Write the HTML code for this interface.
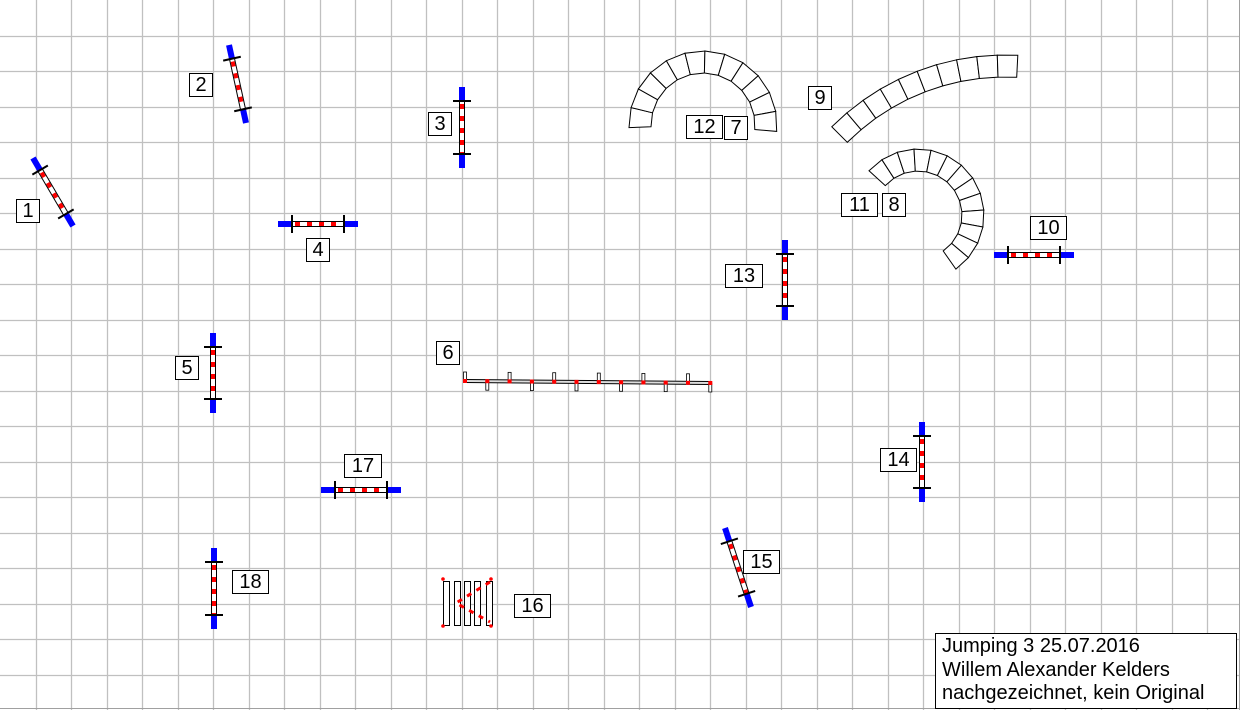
<!DOCTYPE html>
<html><head><meta charset="utf-8"><style>
html,body{margin:0;padding:0;background:#fff;}
#wrap{position:relative;width:1240px;height:710px;overflow:hidden;font-family:"Liberation Sans",Arial,sans-serif;}
svg{position:absolute;left:0;top:0;}
.lb{position:absolute;border:1px solid #000;background:#fff;font-size:20px;line-height:22px;text-align:center;color:#000;box-sizing:border-box;height:24px;}
#info{position:absolute;left:935px;top:633px;width:302px;height:76px;border:1px solid #000;background:#fff;box-sizing:border-box;font-size:20px;line-height:23.5px;padding:1px 0 0 6px;color:#000;}
</style></head><body><div id="wrap">
<svg id="s" width="1240" height="710" xmlns="http://www.w3.org/2000/svg"></svg>
<div class="lb" style="left:16px;top:199px;width:24px">1</div>
<div class="lb" style="left:189px;top:73px;width:24px">2</div>
<div class="lb" style="left:428px;top:112px;width:24px">3</div>
<div class="lb" style="left:306px;top:238px;width:24px">4</div>
<div class="lb" style="left:175px;top:356px;width:24px">5</div>
<div class="lb" style="left:436px;top:341px;width:24px">6</div>
<div class="lb" style="left:686px;top:115px;width:37px">12</div>
<div class="lb" style="left:724px;top:116px;width:24px">7</div>
<div class="lb" style="left:808px;top:86px;width:24px">9</div>
<div class="lb" style="left:841px;top:193px;width:37px">11</div>
<div class="lb" style="left:882px;top:193px;width:24px">8</div>
<div class="lb" style="left:1030px;top:216px;width:37px">10</div>
<div class="lb" style="left:725px;top:264px;width:38px">13</div>
<div class="lb" style="left:880px;top:448px;width:37px">14</div>
<div class="lb" style="left:743px;top:550px;width:37px">15</div>
<div class="lb" style="left:514px;top:594px;width:37px">16</div>
<div class="lb" style="left:344px;top:454px;width:38px">17</div>
<div class="lb" style="left:232px;top:570px;width:37px">18</div>
<div id="info">Jumping 3 25.07.2016<br>Willem Alexander Kelders<br>nachgezeichnet, kein Original</div>
</div>
<script>
var s=document.getElementById('s'),h='';
for(var i=1;i*35.5<1240;i++){var x=Math.round(i*35.5)+0.5;h+='<line x1="'+x+'" y1="0" x2="'+x+'" y2="710" stroke="#c0c0c0" stroke-width="1.3"/>';}
for(var i=1;i*35.5<700;i++){var y=Math.round(i*35.5)+0.5;h+='<line x1="0" y1="'+y+'" x2="1240" y2="'+y+'" stroke="#c0c0c0" stroke-width="1.3"/>';}
h+='<line x1="0" y1="708.5" x2="1240" y2="708.5" stroke="#a0a0a0"/><line x1="1239.5" y1="0" x2="1239.5" y2="710" stroke="#a0a0a0"/>';
function P(x,y){return x.toFixed(1)+','+y.toFixed(1);}
function jump(x1,y1,x2,y2){
 var dx=x2-x1,dy=y2-y1,L=Math.hypot(dx,dy),ux=dx/L,uy=dy/L,nx=-uy,ny=ux,w=14;
 function pt(a,b){return [x1+ux*a+nx*b,y1+uy*a+ny*b];}
 function seg(a1,b1,a2,b2,c,sw,extra){var p=pt(a1,b1),q=pt(a2,b2);return '<line x1="'+p[0]+'" y1="'+p[1]+'" x2="'+q[0]+'" y2="'+q[1]+'" stroke="'+c+'" stroke-width="'+sw+'" '+(extra||'')+'/>';}
 var r='';
 r+=seg(w,0,L-w,0,'#fff',5);
 r+=seg(w,0,L-w,0,'#f00',4,'stroke-dasharray="5 7" stroke-dashoffset="-3"');
 r+=seg(w,-2.5,L-w,-2.5,'#000',1);r+=seg(w,2.5,L-w,2.5,'#000',1);
 r+=seg(0,0,w,0,'#0000ff',6);r+=seg(L-w,0,L,0,'#0000ff',6);
 r+=seg(w,-9,w,9,'#000',2);r+=seg(L-w,-9,L-w,9,'#000',2);
 h+=r;}
jump(33,158,73,226);jump(229,45,246,123);jump(462,87,462,168);jump(278,224,358,224);
jump(213,333,213,413);jump(994,255,1074,255);jump(785,240,785,320);jump(922,422,922,502);
jump(725,528,751,607);jump(321,490,401,490);jump(214,548,214,629);
function tunnel(cx,cy,ri,ro,a0,a1,n){
 for(var k=0;k<n;k++){var b0=(a0+(a1-a0)*k/n)*Math.PI/180,b1=(a0+(a1-a0)*(k+1)/n)*Math.PI/180;
 h+='<polygon points="'+P(cx+ri*Math.cos(b0),cy+ri*Math.sin(b0))+' '+P(cx+ro*Math.cos(b0),cy+ro*Math.sin(b0))+' '+P(cx+ro*Math.cos(b1),cy+ro*Math.sin(b1))+' '+P(cx+ri*Math.cos(b1),cy+ri*Math.sin(b1))+'" fill="#fff" stroke="#000" stroke-width="1"/>';}}
tunnel(703,125,52,74,178,365,12);
tunnel(1005,300,223,245,225,273,10);
tunnel(918,215,44,66,222,415,13);
h+='<line x1="465" y1="381" x2="712" y2="383" stroke="#000" stroke-width="4"/><line x1="465" y1="381" x2="712" y2="383" stroke="#ddd" stroke-width="2"/>';
for(var k=0;k<12;k++){var x=465+k*22.3,y=381+k*0.18,up=(k%2==0);
 h+='<rect x="'+(x-1.5)+'" y="'+(up?y-9:y)+'" width="3" height="9" fill="#fff" stroke="#000" stroke-width="0.8"/>';
 h+='<rect x="'+(x-2)+'" y="'+(y-2)+'" width="4" height="4" fill="#f00"/>';}
var xs=[443,454,464,474,486];
for(var k=0;k<5;k++){h+='<rect x="'+(xs[k]+0.5)+'" y="581.5" width="6" height="44" fill="#fff" stroke="#000" stroke-width="1"/>';}
h+='<path d="M490,582 L456,603 L490,622" fill="none" stroke="#f00" stroke-width="3" stroke-dasharray="5 6"/>';
[[443,579],[491,579],[443,626],[491,626]].forEach(function(p){h+='<circle cx="'+p[0]+'" cy="'+p[1]+'" r="1.8" fill="#f00"/>';});
s.innerHTML=h;
</script>
</body></html>
